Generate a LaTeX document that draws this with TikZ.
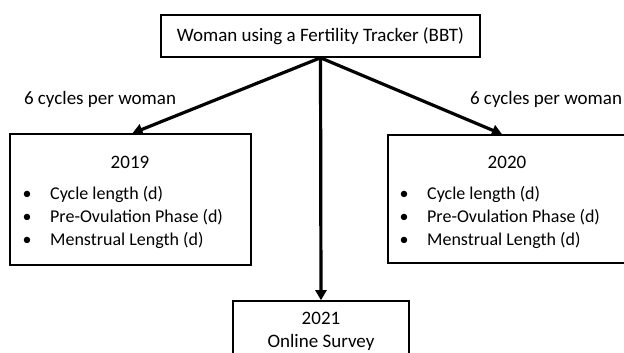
\documentclass[tikz,border=0pt]{standalone}
\usepackage{fontspec}
\setmainfont{Carlito}
\usetikzlibrary{arrows.meta}
\begin{document}
\begin{tikzpicture}[x=1pt,y=-1pt,
  box/.style={draw,line width=1.6pt,inner sep=0pt},
  lbl/.style={font=\fontsize{19}{23}\selectfont,inner sep=0pt},
  items/.style={font=\fontsize{18}{23}\selectfont,inner sep=0pt,anchor=west},
  conn/.style={line width=3.2pt,-{Triangle[length=10pt,width=11pt]}}]
\useasboundingbox (0,0) rectangle (624,353);
\clip (0,0) rectangle (624,353);
% boxes
\node[box,lbl,minimum width=319pt,minimum height=42pt] (top) at (320.5,36) {\raisebox{2pt}{Woman using a Fertility Tracker (BBT)}};
\node[box,minimum width=241pt,minimum height=131pt] (left) at (130.5,199.5) {};
\node[box,minimum width=238pt,minimum height=128pt] (right) at (507,199) {};
\node[box,minimum width=176pt,minimum height=58pt] (bottom) at (321,330) {};
% box texts
\node[lbl] (ltitle) at (130,162.5) {2019};
\node[items] (litems) at (27,218) {\begin{tabular}{@{}c@{\hspace{23pt}}l@{}}
\makebox[0pt][c]{\textbullet} & Cycle length (d)\\
\makebox[0pt][c]{\textbullet} & Pre-Ovulation Phase (d)\\
\makebox[0pt][c]{\textbullet} & Menstrual Length (d)
\end{tabular}};
\node[lbl] (rtitle) at (507,162.5) {2020};
\node[items] (ritems) at (404,218) {\begin{tabular}{@{}c@{\hspace{23pt}}l@{}}
\makebox[0pt][c]{\textbullet} & Cycle length (d)\\
\makebox[0pt][c]{\textbullet} & Pre-Ovulation Phase (d)\\
\makebox[0pt][c]{\textbullet} & Menstrual Length (d)
\end{tabular}};
\node[lbl,align=center] (btext) at (321,331.5) {2021\\Online Survey};
% edge labels
\node[lbl] (llabel) at (100,99) {6 cycles per woman};
\node[lbl] (rlabel) at (546,99) {6 cycles per woman};
% connectors
\draw[conn] (top.south) -- ([xshift=2pt]left.north);
\draw[conn] (top.south) -- ([xshift=-5pt]right.north);
\draw[conn] (top.south) -- (bottom.north);
\end{tikzpicture}
\end{document}
